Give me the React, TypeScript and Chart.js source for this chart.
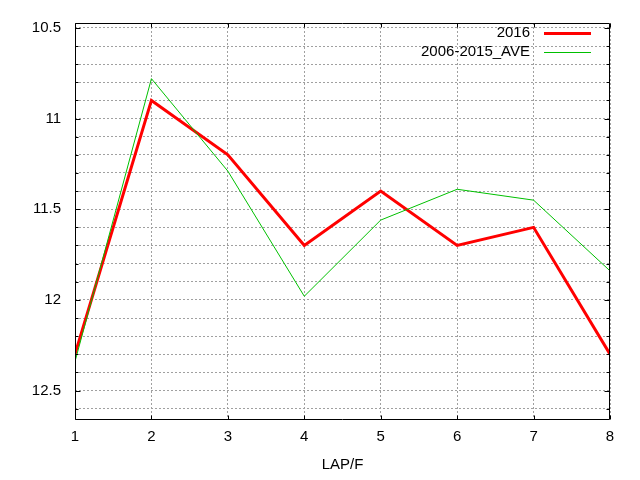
import React, { useEffect, useRef } from 'react';
import { Chart, registerables } from 'chart.js';

Chart.register(...registerables);

const laps = [1, 2, 3, 4, 5, 6, 7, 8];
const series2016 = [12.3, 10.9, 11.2, 11.7, 11.4, 11.7, 11.6, 12.3];
const seriesAve = [12.34, 10.78, 11.29, 11.98, 11.56, 11.39, 11.45, 11.84];
const seriesLabels = ['2016', '2006-2015_AVE'];
const seriesColors = ['#ff0000', '#00c000'];
const seriesWidths = [3, 1];
const yGridValues = [10.5, 10.6, 10.7, 10.8, 10.9, 11, 11.1, 11.2, 11.3, 11.4, 11.5, 11.6, 11.7, 11.8, 11.9, 12, 12.1, 12.2, 12.3, 12.4, 12.5, 12.6];
const yMajorValues = [10.5, 11, 11.5, 12, 12.5];
const yMajorLabels = ['10.5', '11', '11.5', '12', '12.5'];
const yMin = 10.473;
const yMax = 12.657;
const xTitle = 'LAP/F';

const FONT = "'Liberation Sans', Arial, sans-serif";

const framePlugin = {
  id: 'gnuFrame',
  afterDraw(chart: any) {
    const { ctx, chartArea, scales } = chart;
    const L = Math.round(chartArea.left) + 0.5;
    const R = Math.round(chartArea.right) - 0.5;
    const T = Math.round(chartArea.top) + 0.5;
    const B = Math.round(chartArea.bottom) + 0.5;
    ctx.save();
    ctx.setLineDash([]);
    ctx.strokeStyle = '#000';
    ctx.lineWidth = 1;
    ctx.beginPath();
    ctx.rect(L, T, R - L, B - T);
    // y ticks (inward, both sides)
    yGridValues.forEach((v) => {
      const major = yMajorValues.some((m) => Math.abs(m - v) < 1e-6);
      const len = major ? 5 : 3;
      const py = Math.round(scales.y.getPixelForValue(v)) + 0.5;
      ctx.moveTo(L, py);
      ctx.lineTo(L + len, py);
      ctx.moveTo(R, py);
      ctx.lineTo(R - len, py);
    });
    // x ticks (inward, top & bottom)
    laps.forEach((v) => {
      const px = Math.round(scales.x.getPixelForValue(v)) + 0.5;
      ctx.moveTo(px, B);
      ctx.lineTo(px, B - 4);
      ctx.moveTo(px, T);
      ctx.lineTo(px, T + 4);
    });
    ctx.stroke();

    // legend (gnuplot style, top right inside)
    ctx.font = `15px ${FONT}`;
    ctx.textAlign = 'right';
    ctx.textBaseline = 'middle';
    ctx.fillStyle = '#000';
    const textRight = 530;
    const lineStart = 544;
    const lineEnd = 591;
    const rows = [33, 52];
    seriesLabels.forEach((label, i) => {
      const yy = rows[i];
      ctx.fillText(label, textRight, yy);
      ctx.beginPath();
      ctx.strokeStyle = seriesColors[i];
      ctx.lineWidth = seriesWidths[i];
      const ly = seriesWidths[i] % 2 === 1 ? yy + 0.5 : yy;
      ctx.moveTo(lineStart, ly);
      ctx.lineTo(lineEnd, ly);
      ctx.stroke();
    });
    ctx.restore();
  },
};

export default function App() {
  const canvasRef = useRef<HTMLCanvasElement | null>(null);

  useEffect(() => {
    const canvas = canvasRef.current;
    if (!canvas) return;
    const chart = new Chart(canvas, {
      type: 'line',
      data: {
        datasets: [
          {
            label: seriesLabels[0],
            data: laps.map((x, i) => ({ x, y: series2016[i] })),
            borderColor: seriesColors[0],
            backgroundColor: seriesColors[0],
            borderWidth: seriesWidths[0],
            pointRadius: 0,
            tension: 0,
            order: 1,
          },
          {
            label: seriesLabels[1],
            data: laps.map((x, i) => ({ x, y: seriesAve[i] })),
            borderColor: seriesColors[1],
            backgroundColor: seriesColors[1],
            borderWidth: seriesWidths[1],
            pointRadius: 0,
            tension: 0,
            order: 0,
          },
        ],
      },
      options: {
        animation: false,
        responsive: false,
        devicePixelRatio: 1,
        layout: { padding: { top: 20, right: 30, left: 0, bottom: 0 } },
        plugins: {
          legend: { display: false },
          tooltip: { enabled: false },
        },
        scales: {
          x: {
            type: 'linear',
            min: 1,
            max: 8,
            afterFit: (scale: any) => {
              scale.height = 61;
            },
            ticks: {
              stepSize: 1,
              color: '#000',
              padding: 9,
              font: { family: FONT, size: 15 },
              callback: (v: any) => String(v),
            },
            grid: {
              color: '#a0a0a0',
              lineWidth: 1,
              drawTicks: false,
            },
            border: { display: false, dash: [2, 2] },
            title: {
              display: true,
              text: xTitle,
              color: '#000',
              font: { family: FONT, size: 15 },
              padding: { top: 0, bottom: 6 },
            },
          },
          y: {
            type: 'linear',
            reverse: true,
            min: yMin,
            max: yMax,
            afterFit: (scale: any) => {
              scale.width = 75;
            },
            afterBuildTicks: (scale: any) => {
              scale.ticks = yGridValues.map((value) => ({ value }));
            },
            ticks: {
              color: '#000',
              padding: 14,
              autoSkip: false,
              font: { family: FONT, size: 15 },
              callback: (v: any) => {
                const idx = yMajorValues.findIndex((m) => Math.abs(m - Number(v)) < 1e-6);
                return idx >= 0 ? yMajorLabels[idx] : '';
              },
            },
            grid: {
              color: '#a0a0a0',
              lineWidth: 1,
              drawTicks: false,
            },
            border: { display: false, dash: [2, 2] },
          },
        },
      },
      plugins: [framePlugin],
    } as any);
    return () => chart.destroy();
  }, []);

  return (
    <div style={{ position: 'absolute', left: 0, top: 0, width: 640, height: 480, background: '#fff' }}>
      <canvas ref={canvasRef} width={640} height={480} />
    </div>
  );
}
